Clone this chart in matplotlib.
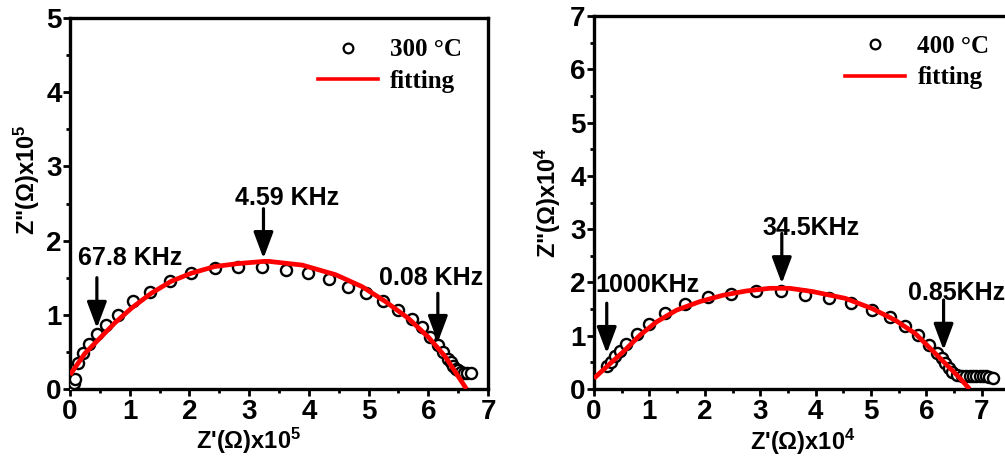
import matplotlib
matplotlib.use("Agg")
import matplotlib.pyplot as plt
from matplotlib.lines import Line2D
from matplotlib.ticker import MultipleLocator

plt.rcParams['font.family'] = ['Liberation Sans', 'DejaVu Sans']
plt.rcParams['font.weight'] = 'bold'
plt.rcParams['mathtext.fontset'] = 'custom'
plt.rcParams['mathtext.rm'] = 'Liberation Sans:bold'
plt.rcParams['mathtext.default'] = 'rm'

# ---------------- data ----------------
# 300 C  : Z' (x1e5), Z'' (x1e5)
left_x = [0.04, 0.06, 0.08, 0.14, 0.22, 0.32, 0.46, 0.61, 0.81, 1.06, 1.34, 1.67, 2.02,
          2.42, 2.81, 3.22, 3.61, 3.99, 4.33, 4.66, 4.96, 5.24, 5.50, 5.72, 5.89, 6.03,
          6.16, 6.25, 6.33, 6.38, 6.42, 6.46, 6.50, 6.55, 6.60, 6.64, 6.72]
left_y = [0.03, 0.08, 0.14, 0.35, 0.48, 0.60, 0.74, 0.86, 1.00, 1.18, 1.31, 1.45, 1.57,
          1.63, 1.65, 1.64, 1.61, 1.56, 1.48, 1.38, 1.29, 1.19, 1.07, 0.94, 0.83, 0.70,
          0.59, 0.50, 0.41, 0.36, 0.31, 0.27, 0.25, 0.23, 0.22, 0.21, 0.21]
left_fit_x = [0.0, 0.25, 0.47, 0.75, 1.03, 1.36, 1.69, 2.03, 2.42, 2.81, 3.25, 3.33,
              3.89, 4.45, 4.89, 5.28, 5.67, 6.00, 6.28, 6.64]
left_fit_y = [0.19, 0.48, 0.66, 0.89, 1.09, 1.29, 1.45, 1.56, 1.65, 1.69, 1.72, 1.72,
              1.67, 1.54, 1.38, 1.18, 0.95, 0.70, 0.44, 0.0]

# 400 C  : Z' (x1e4), Z'' (x1e4)
right_x = [0.23, 0.30, 0.38, 0.47, 0.58, 0.77, 1.00, 1.28, 1.64, 2.05, 2.48, 2.93, 3.37,
           3.81, 4.24, 4.64, 5.01, 5.35, 5.62, 5.85, 6.04, 6.19, 6.28, 6.34, 6.40, 6.46,
           6.55, 6.64, 6.72, 6.78, 6.84, 6.90, 6.96, 7.02, 7.08, 7.13, 7.21]
right_y = [0.43, 0.51, 0.62, 0.72, 0.85, 1.03, 1.22, 1.42, 1.59, 1.72, 1.79, 1.83, 1.83,
           1.76, 1.70, 1.61, 1.49, 1.35, 1.19, 1.01, 0.83, 0.68, 0.58, 0.48, 0.39, 0.32,
           0.27, 0.25, 0.25, 0.25, 0.25, 0.25, 0.25, 0.25, 0.24, 0.23, 0.20]
right_fit_x = [0.0, 0.23, 0.53, 0.83, 1.13, 1.49, 1.91, 2.33, 2.75, 3.17, 3.35, 3.53,
               3.94, 4.54, 5.02, 5.44, 5.80, 6.10, 6.34, 6.58, 6.78]
right_fit_y = [0.20, 0.42, 0.70, 1.01, 1.26, 1.48, 1.64, 1.76, 1.84, 1.89, 1.89, 1.89,
               1.83, 1.70, 1.51, 1.29, 1.04, 0.73, 0.48, 0.23, 0.0]

left_labels = ["67.8 KHz", "4.59 KHz", "0.08 KHz"]
left_arrow_x = [0.45, 3.24, 6.16]
left_arrow_top = [1.50, 2.43, 1.29]
left_arrow_tip = [0.82, 1.76, 0.63]
left_text_xy = [(1.00, 1.67), (3.64, 2.48), (6.04, 1.40)]

right_labels = ["1000KHz", "34.5KHz", "0.85KHz"]
right_arrow_x = [0.23, 3.39, 6.31]
right_arrow_top = [1.61, 2.92, 1.67]
right_arrow_tip = [0.67, 1.98, 0.73]
right_text_xy = [(0.96, 1.82), (3.91, 2.89), (6.54, 1.67)]

# ---------------- figure ----------------
fig = plt.figure(figsize=(10.05, 4.57), dpi=100)
axL = fig.add_axes([70/1005, 68/457, 418/1005, 371/457])
axR = fig.add_axes([594/1005, 68/457, 415.5/1005, 373/457])

FS = 18
spine_w = 2.4

def style(ax, xmax, ymax, right_spine=True):
    ax.set_xlim(0, xmax)
    ax.set_ylim(0, ymax)
    ax.xaxis.set_major_locator(MultipleLocator(1))
    ax.xaxis.set_minor_locator(MultipleLocator(0.5))
    ax.yaxis.set_major_locator(MultipleLocator(1))
    ax.yaxis.set_minor_locator(MultipleLocator(0.5))
    for s in ax.spines.values():
        s.set_linewidth(spine_w)
    if not right_spine:
        ax.spines['right'].set_visible(False)
    ax.tick_params(which='major', direction='out', length=5, width=2, labelsize=20,
                   top=False, right=False)
    ax.tick_params(axis='x', which='major', pad=2)
    ax.tick_params(axis='y', which='major', pad=1)
    ax.tick_params(which='minor', direction='out', length=3, width=2,
                   top=False, right=False)
    for lab in ax.get_xticklabels() + ax.get_yticklabels():
        lab.set_fontweight('bold')

def panel(ax, x, y, fx, fy, labels, ax_x, ax_top, ax_tip, txy, leg_label, leg_anchor):
    ax.plot(x, y, linestyle='none', marker='o', ms=8, mfc='white', mec='black',
            mew=1.7, zorder=3)
    ax.plot(fx, fy, color='#ff0000', lw=3.4, zorder=4, solid_capstyle='butt')
    for lab, xa, yt, yb, (tx, ty) in zip(labels, ax_x, ax_top, ax_tip, txy):
        ax.annotate('', xy=(xa, yb), xytext=(xa, yt),
                    arrowprops=dict(arrowstyle='-|>,head_length=0.8,head_width=0.3',
                                    mutation_scale=20, lw=2.3, color='black',
                                    shrinkA=0, shrinkB=0), zorder=5)
        ax.text(tx, ty, lab, ha='center', va='baseline', fontsize=FS,
                fontweight='bold', zorder=6)
    handles = [Line2D([], [], linestyle='none', marker='o', ms=7, mfc='white',
                      mec='black', mew=1.6),
               Line2D([], [], color='#ff0000', lw=2.6)]
    ax.legend(handles, [leg_label, 'fitting'], loc='upper left',
              bbox_to_anchor=leg_anchor, frameon=False, borderpad=0,
              borderaxespad=0, handlelength=2.4, handletextpad=0.5,
              labelspacing=0.35,
              prop=dict(family='Liberation Serif', weight='bold', size=18))

style(axL, 7, 5)
style(axR, 7.5, 7, right_spine=False)

panel(axL, left_x, left_y, left_fit_x, left_fit_y, left_labels, left_arrow_x,
      left_arrow_top, left_arrow_tip, left_text_xy, '300 \u00b0C', (0.593, 0.945))
panel(axR, right_x, right_y, right_fit_x, right_fit_y, right_labels, right_arrow_x,
      right_arrow_top, right_arrow_tip, right_text_xy, '400 \u00b0C', (0.604, 0.95))

# axis labels
LFS = 17
axL.text(0.426, -0.14, "Z'(\u03a9)x10$^{5}$", transform=axL.transAxes,
         ha='center', va='center', fontsize=LFS, fontweight='bold')
axL.text(-0.103, 0.563, 'Z"(\u03a9)x10$^{5}$', transform=axL.transAxes,
         ha='center', va='center', fontsize=LFS, fontweight='bold', rotation=90)
axR.text(0.503, -0.142, "Z'(\u03a9)x10$^{4}$", transform=axR.transAxes,
         ha='center', va='center', fontsize=LFS, fontweight='bold')
axR.text(-0.111, 0.499, 'Z"(\u03a9)x10$^{4}$', transform=axR.transAxes,
         ha='center', va='center', fontsize=LFS, fontweight='bold', rotation=90)

fig.savefig('out.png', dpi=100)
